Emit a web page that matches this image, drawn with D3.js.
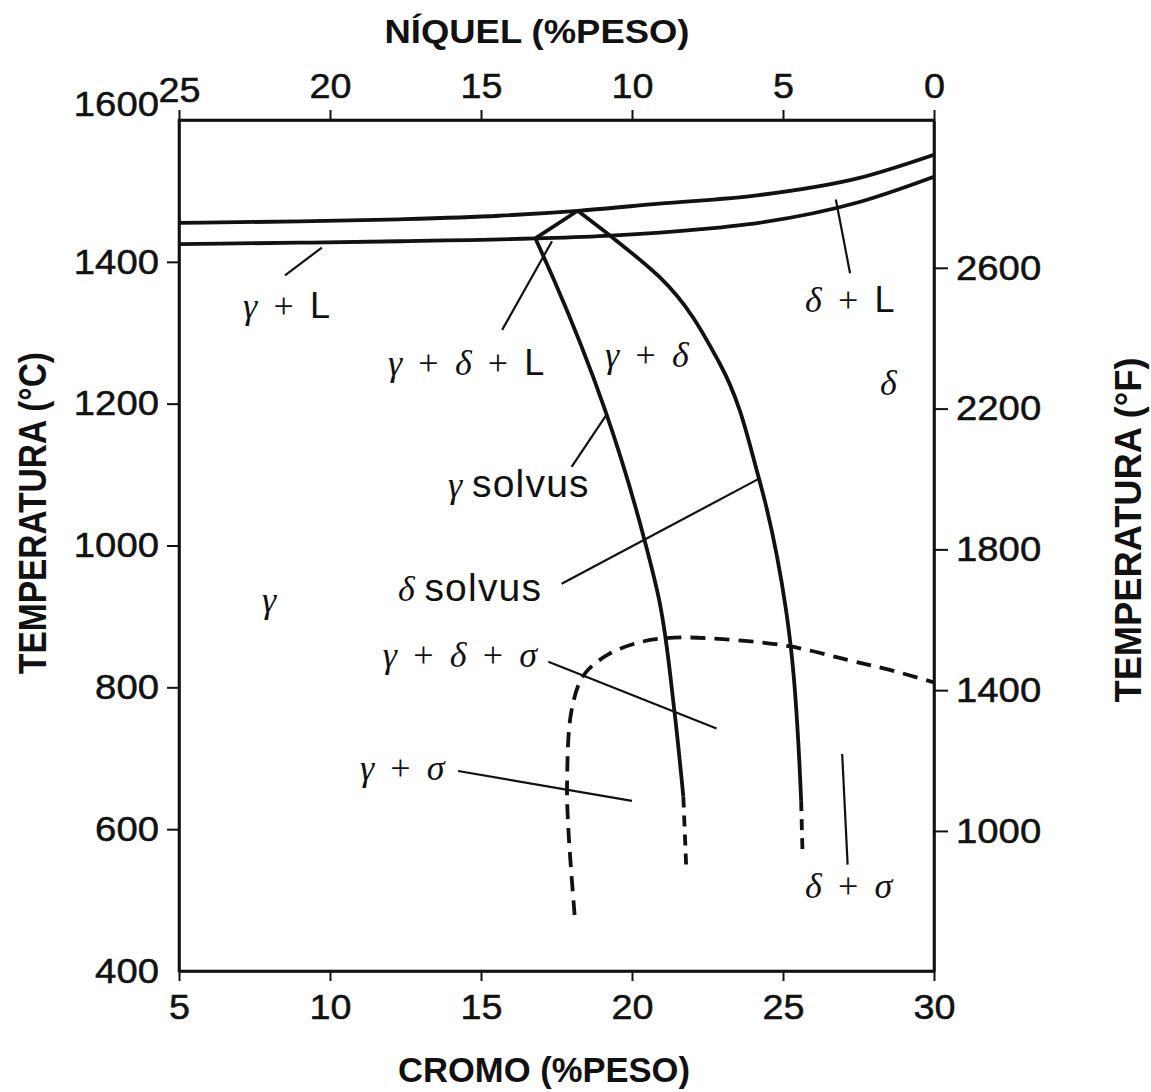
<!DOCTYPE html>
<html>
<head>
<meta charset="utf-8">
<script src="https://cdn.jsdelivr.net/npm/d3@7"></script>
<style>
  html, body { margin: 0; padding: 0; background: #fff; }
  svg { display: block; }
</style>
</head>
<body>
<svg id="chart" width="1151" height="1092"></svg>
<script>
// ---- Axis ticks ----
const crTicks = [5, 10, 15, 20, 25, 30];          // Cr, wt% (bottom)
const niTicks = [25, 20, 15, 10, 5, 0];           // Ni, wt% (top)
const tempCTicks = [400, 600, 800, 1000, 1200, 1400, 1600];
const tempFTicks = [1000, 1400, 1800, 2200, 2600];

// ---- Phase boundaries: [Cr wt%, T °C] ----
const liquidus = [[5,1455],[9,1457],[12.3,1460],[15.6,1465],[18.2,1472],[20.9,1482],[24.2,1494],[27.5,1518],[30,1551]];
const solidus  = [[5,1425],[9,1427],[12.3,1429],[16.8,1433],[19.3,1437],[22.3,1446],[24.2,1455],[27.5,1484],[30,1520]];
const tieLine  = [[18.2,1472],[16.8,1433]];
const gammaSolvus       = [[16.8,1433],[17.4,1376],[19.1,1192],[20.4,1010],[20.9,923],[21.4,768],[21.7,646]];
const gammaSolvusDashed = [[21.7,646],[21.8,542]];
const deltaSolvus       = [[18.2,1472],[19.3,1436],[20.9,1379],[22.9,1257],[24.2,1095],[25.1,909],[25.25,860],[25.6,641]];
const deltaSolvusDashed = [[25.6,641],[25.65,561]];
const sigmaBoundary     = [[18.1,479],[17.9,595],[17.85,665],[18.0,768],[18.4,817],[19.2,846],[20.3,864],[21.4,870],[23.0,868],[25.2,858],[27.1,839],[28.5,825],[30,807]];

// ---- Field labels (anchor = left end of baseline) ----
const fieldLabels = [
  { tokens: ["γ", "+", "L"],           cr: 7.12,  t: 1321 },
  { tokens: ["δ", "+", "L"],           cr: 25.73, t: 1329 },
  { tokens: ["γ", "+", "δ", "+", "L"], cr: 11.92, t: 1240 },
  { tokens: ["γ", "+", "δ"],           cr: 19.11, t: 1252 },
  { tokens: ["δ"],                     cr: 28.21, t: 1212 },
  { tokens: ["γ", "solvus"],           cr: 13.91, t: 1068, gap: "0.25em" },
  { tokens: ["δ", "solvus"],           cr: 12.25, t: 922,  gap: "0.25em" },
  { tokens: ["γ"],                     cr: 7.75,  t: 906 },
  { tokens: ["γ", "+", "δ", "+", "σ"], cr: 11.75, t: 829 },
  { tokens: ["γ", "+", "σ"],           cr: 10.99, t: 669 },
  { tokens: ["δ", "+", "σ"],           cr: 25.73, t: 503 }
];

// ---- Leader lines: [[Cr, T], [Cr, T]] ----
const leaders = [
  [[8.51,1381],[9.73,1420]],
  [[26.75,1488],[27.22,1384]],
  [[15.70,1304],[17.35,1429]],
  [[18.00,1111],[19.18,1186]],
  [[17.67,946],[24.24,1095]],
  [[17.23,836],[22.80,742]],
  [[14.24,682],[20.0,640]],
  [[26.96,706],[27.14,550]]
];

const W = 1151, H = 1092;
const plot = { left: 179, right: 934, top: 120, bottom: 971 };
const sans = "'Liberation Sans', Arial, Helvetica, sans-serif";
const serif = "'Liberation Serif', 'Times New Roman', serif";
const ink = "#111";

const svg = d3.select("#chart");
svg.append("rect").attr("width", W).attr("height", H).attr("fill", "#fff");

const x = d3.scaleLinear().domain([5, 30]).range([plot.left, plot.right]);
const xNi = d3.scaleLinear().domain([25, 0]).range([plot.left, plot.right]);
const y = d3.scaleLinear().domain([400, 1600]).range([plot.bottom, plot.top]);
const yF = d3.scaleLinear().domain([602, 3020]).range([plot.bottom, plot.top]);

svg.append("defs").append("clipPath").attr("id", "plotClip")
  .append("rect")
  .attr("x", plot.left).attr("y", plot.top)
  .attr("width", plot.right - plot.left).attr("height", plot.bottom - plot.top);

// ---- Axes ----
const fmt = d3.format("d");
function styleAxis(g, digitW) {
  g.select(".domain").attr("stroke", ink).attr("stroke-width", 2.5);
  g.selectAll(".tick line").attr("stroke", ink).attr("stroke-width", 2);
  g.selectAll(".tick text")
    .attr("fill", ink)
    .attr("stroke", ink)
    .attr("stroke-width", 0.5)
    .attr("font-family", sans)
    .attr("font-size", 35)
    .attr("textLength", d => fmt(d).length * digitW)
    .attr("lengthAdjust", "spacingAndGlyphs");
}

const gBottom = svg.append("g")
  .attr("transform", `translate(0,${plot.bottom})`)
  .call(d3.axisBottom(x).tickValues(crTicks).tickFormat(fmt).tickSize(10).tickSizeOuter(0).tickPadding(13));
styleAxis(gBottom, 21);

const gTop = svg.append("g")
  .attr("transform", `translate(0,${plot.top})`)
  .call(d3.axisTop(xNi).tickValues(niTicks).tickFormat(fmt).tickSize(10).tickSizeOuter(0).tickPadding(12));
styleAxis(gTop, 21);
gTop.selectAll(".tick text").filter(d => d === 25).attr("dy", "0.1em");

const gLeft = svg.append("g")
  .attr("transform", `translate(${plot.left},0)`)
  .call(d3.axisLeft(y).tickValues(tempCTicks).tickFormat(fmt).tickSize(12).tickSizeOuter(0).tickPadding(8));
styleAxis(gLeft, 21.3);
gLeft.selectAll(".tick text").filter(d => d === 1600).attr("dy", "-0.12em");
gLeft.selectAll(".tick line").filter(d => d === 1600 || d === 400).attr("stroke", "none");

const gRight = svg.append("g")
  .attr("transform", `translate(${plot.right},0)`)
  .call(d3.axisRight(yF).tickValues(tempFTicks).tickFormat(fmt).tickSize(14).tickSizeOuter(0).tickPadding(8));
styleAxis(gRight, 21.3);

// ---- Axis titles ----
svg.append("text")
  .attr("x", 537).attr("y", 43)
  .attr("text-anchor", "middle")
  .attr("font-family", sans).attr("font-weight", "bold").attr("font-size", 34)
  .attr("textLength", 305).attr("lengthAdjust", "spacingAndGlyphs")
  .attr("fill", ink)
  .text("NÍQUEL (%PESO)");

svg.append("text")
  .attr("x", 544).attr("y", 1082)
  .attr("text-anchor", "middle")
  .attr("font-family", sans).attr("font-weight", "bold").attr("font-size", 35)
  .attr("textLength", 292).attr("lengthAdjust", "spacingAndGlyphs")
  .attr("fill", ink)
  .text("CROMO (%PESO)");

svg.append("text")
  .attr("transform", "translate(46,513) rotate(-90)")
  .attr("text-anchor", "middle")
  .attr("font-family", sans).attr("font-weight", "bold").attr("font-size", 38)
  .attr("textLength", 322).attr("lengthAdjust", "spacingAndGlyphs")
  .attr("fill", ink)
  .text("TEMPERATURA (°C)");

svg.append("text")
  .attr("transform", "translate(1141,530) rotate(-90)")
  .attr("text-anchor", "middle")
  .attr("font-family", sans).attr("font-weight", "bold").attr("font-size", 37)
  .attr("textLength", 345).attr("lengthAdjust", "spacingAndGlyphs")
  .attr("fill", ink)
  .text("TEMPERATURA (°F)");

// ---- Plot frame ----
svg.append("rect")
  .attr("x", plot.left).attr("y", plot.top)
  .attr("width", plot.right - plot.left).attr("height", plot.bottom - plot.top)
  .attr("fill", "none").attr("stroke", ink).attr("stroke-width", 2.6);

// ---- Phase boundaries ----
const gCurves = svg.append("g").attr("clip-path", "url(#plotClip)");
const alongX = d3.line().x(d => x(d[0])).y(d => y(d[1])).curve(d3.curveMonotoneX);
const alongY = d3.line().x(d => x(d[0])).y(d => y(d[1])).curve(d3.curveMonotoneY);
const smooth = d3.line().x(d => x(d[0])).y(d => y(d[1])).curve(d3.curveCatmullRom.alpha(0.5));
const straight = d3.line().x(d => x(d[0])).y(d => y(d[1]));

function boundary(data, gen, dash) {
  gCurves.append("path")
    .datum(data)
    .attr("d", gen)
    .attr("fill", "none")
    .attr("stroke", ink)
    .attr("stroke-width", 3.8)
    .attr("stroke-linejoin", "round")
    .attr("stroke-dasharray", dash || null);
}
boundary(liquidus, alongX);
boundary(solidus, alongX);
boundary(tieLine, straight);
boundary(gammaSolvus, alongY);
boundary(deltaSolvus, alongY);
boundary(gammaSolvusDashed, straight, "11,8");
boundary(deltaSolvusDashed, straight, "11,8");
boundary(sigmaBoundary, smooth, "15,9");

// ---- Leader lines ----
leaders.forEach(seg => {
  svg.append("path")
    .datum(seg)
    .attr("d", straight)
    .attr("fill", "none")
    .attr("stroke", ink)
    .attr("stroke-width", 2.2);
});

// ---- Field labels ----
const greek = new Set(["γ", "δ", "σ"]);
fieldLabels.forEach(lab => {
  const t = svg.append("text")
    .attr("x", x(lab.cr)).attr("y", y(lab.t))
    .attr("font-size", 36)
    .attr("fill", ink);
  lab.tokens.forEach((tok, i) => {
    const ts = t.append("tspan").text(tok);
    if (i > 0) ts.attr("dx", lab.gap || "0.45em");
    if (greek.has(tok)) {
      ts.attr("font-family", serif).attr("font-style", "italic");
    } else if (tok === "+") {
      ts.attr("font-family", serif);
    } else if (tok.length > 1) {
      ts.attr("font-family", sans).attr("font-size", 39).attr("letter-spacing", "1.2px");
    } else {
      ts.attr("font-family", sans);
    }
  });
});
</script>
</body>
</html>
